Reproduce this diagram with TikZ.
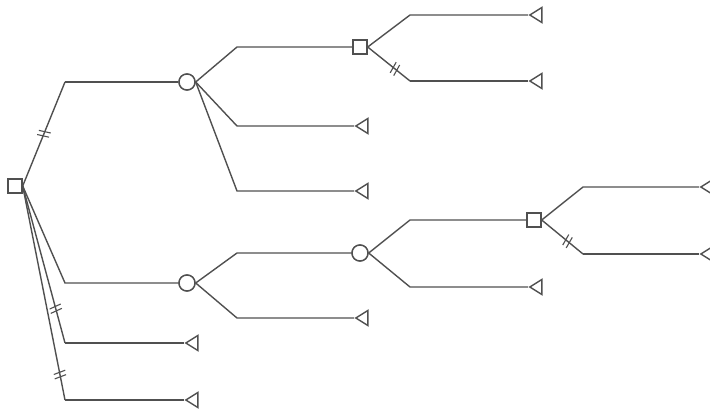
\documentclass[tikz,border=0pt]{standalone}
\usetikzlibrary{shapes.geometric,decorations.markings}
\definecolor{ln}{RGB}{80,80,80}
\begin{document}
\begin{tikzpicture}[x=1pt,y=-1pt,line width=1.4pt,draw=ln,
  decision/.style={draw=ln,line width=1.4pt,rectangle,minimum size=14,inner sep=0pt,fill=white},
  chance/.style={draw=ln,line width=1.4pt,circle,minimum size=16,inner sep=0pt,fill=white},
  terminal/.style={draw=ln,line width=1.4pt,isosceles triangle,shape border rotate=180,isosceles triangle stretches,minimum height=12,minimum width=15,inner sep=0pt,anchor=apex},
  branch/.style={draw=ln,line width=1.4pt},
  blocked/.style={branch,postaction={decorate},decoration={markings,mark=at position #1 with {\draw[ln,line width=1.1pt] (-3,-6) -- (-1,6) (1.5,-6) -- (3.5,6);}}}]
\useasboundingbox (0,0) rectangle (710,412);
% nodes
\node[decision] (r) at (15,186) {};
\node[chance] (c1) at (187,82) {};
\node[chance] (c2) at (187,283) {};
\node[terminal] (t3) at (184,343) {};
\node[terminal] (t4) at (184,400) {};
\node[decision] (s1) at (360,47) {};
\node[terminal] (t6) at (354,126) {};
\node[terminal] (t7) at (354,191) {};
\node[terminal] (t8) at (528,15) {};
\node[terminal] (t9) at (528,81) {};
\node[chance] (c3) at (360,253) {};
\node[terminal] (t11) at (354,318) {};
\node[decision] (s2) at (534,220) {};
\node[terminal] (t13) at (528,287) {};
\node[terminal] (t14) at (699,187) {};
\node[terminal] (t15) at (699,254) {};
% bend points
\coordinate (k1) at (65,82);
\coordinate (k2) at (65,283);
\coordinate (k3) at (65,343);
\coordinate (k4) at (65,400);
\coordinate (k5) at (237,47);
\coordinate (k6) at (237,126);
\coordinate (k7) at (237,191);
\coordinate (k8) at (410,15);
\coordinate (k9) at (410,81);
\coordinate (k10) at (237,253);
\coordinate (k11) at (237,318);
\coordinate (k12) at (410,220);
\coordinate (k13) at (410,287);
\coordinate (k14) at (583,187);
\coordinate (k15) at (583,254);
% connectors from root
\draw[blocked=0.5] (r.east) -- (k1);
\draw[branch] (k1) -- (c1);
\draw[branch] (r.east) -- (k2) -- (c2);
\draw[blocked=0.78] (r.east) -- (k3);
\draw[branch] (k3) -- (t3.apex);
\draw[blocked=0.88] (r.east) -- (k4);
\draw[branch] (k4) -- (t4.apex);
% from c1
\draw[branch] (c1.east) -- (k5) -- (s1);
\draw[branch] (c1.east) -- (k6) -- (t6.apex);
\draw[branch] (c1.east) -- (k7) -- (t7.apex);
% from s1
\draw[branch] (s1.east) -- (k8) -- (t8.apex);
\draw[blocked=0.64] (s1.east) -- (k9);
\draw[branch] (k9) -- (t9.apex);
% from c2
\draw[branch] (c2.east) -- (k10) -- (c3);
\draw[branch] (c2.east) -- (k11) -- (t11.apex);
% from c3
\draw[branch] (c3.east) -- (k12) -- (s2);
\draw[branch] (c3.east) -- (k13) -- (t13.apex);
% from s2
\draw[branch] (s2.east) -- (k14) -- (t14.apex);
\draw[blocked=0.62] (s2.east) -- (k15);
\draw[branch] (k15) -- (t15.apex);
% redraw nodes on top
\node[decision] at (r) {};
\node[chance] at (c1) {};
\node[chance] at (c2) {};
\node[chance] at (c3) {};
\node[decision] at (s1) {};
\node[decision] at (s2) {};
\end{tikzpicture}
\end{document}
